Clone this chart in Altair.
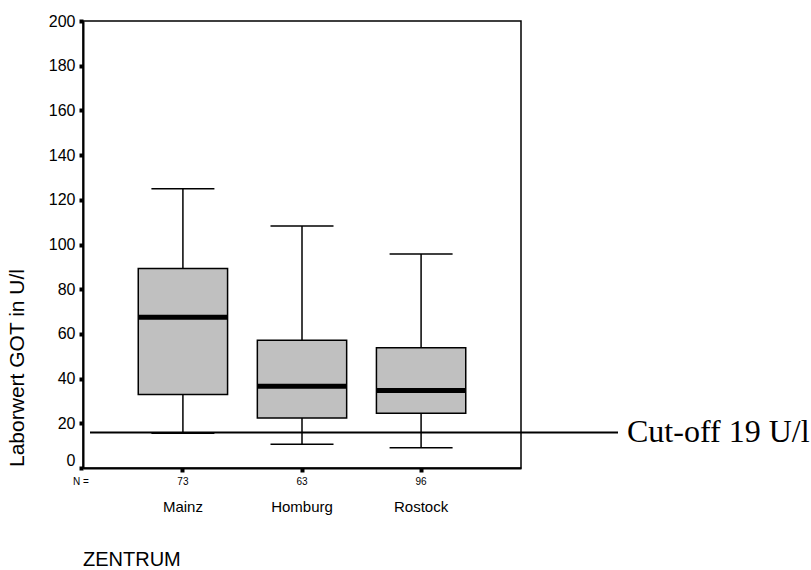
import altair as alt
import pandas as pd

# ---- data ----
centers = ["Mainz", "Homburg", "Rostock"]
n_values = [73, 63, 96]
whisker_low = [15.5, 10.6, 9.1]
q1 = [32.9, 22.4, 24.5]
median = [67.5, 36.6, 34.7]
q3 = [89.3, 57.2, 53.8]
whisker_high = [124.9, 108.3, 95.7]

cutoff_value = [15.9]
cutoff_label = ["Cut-off 19 U/l"]
y_title = ["Laborwert GOT in U/l"]
x_title = ["ZENTRUM"]
n_label = ["N ="]

df = pd.DataFrame({
    "center": centers, "n": n_values, "lo": whisker_low, "q1": q1,
    "med": median, "q3": q3, "hi": whisker_high,
})

SANS = "Liberation Sans"
SERIF = "Liberation Serif"

xscale = alt.Scale(domain=centers, paddingInner=0.25, paddingOuter=0.464)
yscale = alt.Scale(domain=[0, 200], nice=False)

x_enc = alt.X("center:N", scale=xscale, sort=centers,
              axis=alt.Axis(labels=False, title=None, domainColor="black", domainWidth=2,
                            tickColor="black", tickSize=4, tickWidth=4, bandPosition=0.5,
                            grid=False))
y_axis = alt.Axis(values=list(range(0, 201, 20)), title=None, grid=False,
                  domainColor="black", domainWidth=2, tickColor="black",
                  tickSize=4, tickWidth=4, labelFont=SANS, labelFontSize=16,
                  labelColor="black", labelPadding=4,
                  labelOffset={"condition": {"test": "datum.value == 0", "value": -8}, "value": 0})

base = alt.Chart(df)
xs = alt.X("center:N", scale=xscale, sort=centers)

whisker = base.mark_rule(color="black", strokeWidth=1.5).encode(
    x=x_enc, y=alt.Y("lo:Q", scale=yscale, axis=y_axis), y2="hi:Q")

box = base.mark_bar(fill="#c0c0c0", stroke="black", strokeWidth=1.5, opacity=1).encode(
    x=xs, y=alt.Y("q1:Q", scale=yscale), y2="q3:Q")

cap_lo = base.mark_tick(color="black", size=63, thickness=1.5, opacity=1).encode(
    x=xs, y=alt.Y("lo:Q", scale=yscale))
cap_hi = base.mark_tick(color="black", size=63, thickness=1.5, opacity=1).encode(
    x=xs, y=alt.Y("hi:Q", scale=yscale))
med = base.mark_tick(color="black", size=89, thickness=5, opacity=1).encode(
    x=xs, y=alt.Y("med:Q", scale=yscale))

n_text = base.mark_text(font=SANS, fontSize=10, color="black", baseline="middle").encode(
    x=xs, y=alt.value(461), text="n:N")
name_text = base.mark_text(font=SANS, fontSize=15, color="black", baseline="middle").encode(
    x=xs, y=alt.value(486), text="center:N")

n_lab = alt.Chart(pd.DataFrame({"t": n_label})).mark_text(
    font=SANS, fontSize=10, color="black", align="left", baseline="middle").encode(
    x=alt.value(-10), y=alt.value(461), text="t:N")

xt = alt.Chart(pd.DataFrame({"t": x_title})).mark_text(
    font=SANS, fontSize=20, color="black", align="left", baseline="middle").encode(
    x=alt.value(0), y=alt.value(539), text="t:N")

yt = alt.Chart(pd.DataFrame({"t": y_title})).mark_text(
    font=SANS, fontSize=21, color="black", align="left", baseline="middle", angle=270).encode(
    x=alt.value(-65), y=alt.value(446), text="t:N")

cut_df = pd.DataFrame({"v": cutoff_value, "t": cutoff_label})
cut_rule = alt.Chart(cut_df).mark_rule(color="black", strokeWidth=2).encode(
    x=alt.value(7), x2=alt.value(535), y=alt.Y("v:Q", scale=yscale))
cut_text = alt.Chart(cut_df).mark_text(
    font=SERIF, fontSize=32, color="black", align="left", baseline="middle").encode(
    x=alt.value(544), y=alt.Y("v:Q", scale=yscale), text="t:N")

chart = alt.layer(
    whisker, box, cap_lo, cap_hi, med, n_text, name_text, n_lab, xt, yt, cut_rule, cut_text
).properties(
    width=438, height=447,
    autosize=alt.AutoSizeParams(type="none"),
    padding={"left": 83, "top": 21, "right": 290, "bottom": 102},
    background="white",
).configure_view(stroke="black", strokeWidth=1.5)

chart.save("out.html", embed_options={"renderer": "svg", "actions": False})
